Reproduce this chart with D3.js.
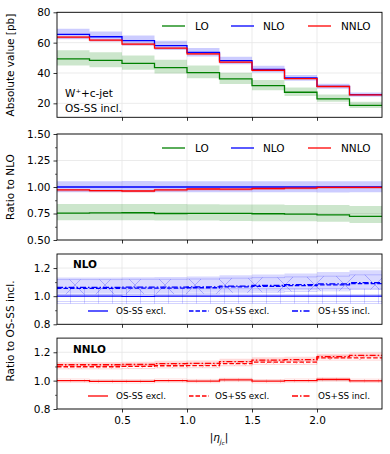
<!DOCTYPE html>
<html>
<head>
<meta charset="utf-8">
<script src="https://cdn.jsdelivr.net/npm/d3@7"></script>
<style>
  body { margin: 0; background: #fff; }
  svg { display: block; font-family: "DejaVu Sans", sans-serif; }
</style>
</head>
<body>
<svg id="svg" width="390" height="454"></svg>
<script>
// ----- data -----
const binEdges = [0, 0.25, 0.5, 0.75, 1.0, 1.25, 1.5, 1.75, 2.0, 2.25, 2.5];

// absolute cross sections [pb], OS-SS incl.
const loVals   = [49.3, 48.3, 46.4, 43.5, 40.3, 36.1, 31.7, 27.3, 23.0, 18.6];
const loLow    = [44.9, 43.8, 42.1, 39.7, 36.6, 32.7, 28.7, 24.8, 21.0, 17.0];
const loHigh   = [55.0, 53.7, 51.5, 48.7, 44.9, 40.2, 35.4, 30.5, 25.9, 21.1];
const nloVals  = [65.5, 63.9, 61.3, 58.0, 53.6, 48.1, 42.4, 36.7, 31.2, 25.7];
const nloLow   = [62.2, 60.7, 58.2, 55.1, 50.9, 45.7, 40.3, 34.9, 29.6, 24.4];
const nloHigh  = [69.1, 67.4, 64.7, 61.2, 56.5, 50.7, 44.7, 38.7, 32.9, 27.1];
const nnloVals = [63.7, 61.7, 59.0, 56.4, 52.6, 47.1, 41.8, 36.3, 31.1, 25.6];
const nnloLow  = [62.7, 60.8, 58.1, 55.6, 51.8, 46.4, 41.2, 35.8, 30.6, 25.2];
const nnloHigh = [64.3, 62.3, 59.6, 57.0, 53.1, 47.6, 42.2, 36.7, 31.4, 25.9];

// ratios to OS-SS incl., NLO
const nloOsssExcl     = [1.000, 1.000, 0.999, 1.000, 1.000, 1.000, 1.000, 1.000, 1.000, 1.000];
const nloOsssExclLow  = [0.948, 0.948, 0.947, 0.948, 0.948, 0.948, 0.948, 0.948, 0.948, 0.948];
const nloOsssExclHigh = [1.053, 1.053, 1.052, 1.053, 1.053, 1.053, 1.053, 1.053, 1.053, 1.053];
const nloOpssExcl     = [1.056, 1.056, 1.058, 1.058, 1.060, 1.066, 1.070, 1.075, 1.080, 1.090];
const nloOpssExclLow  = [1.014, 1.014, 1.016, 1.016, 1.018, 1.024, 1.028, 1.033, 1.038, 1.048];
const nloOpssExclHigh = [1.118, 1.118, 1.120, 1.120, 1.122, 1.128, 1.132, 1.137, 1.142, 1.152];
const nloOpssIncl     = [1.062, 1.062, 1.064, 1.064, 1.066, 1.072, 1.076, 1.082, 1.088, 1.097];
const nloOpssInclLow  = [1.020, 1.020, 1.022, 1.022, 1.024, 1.030, 1.034, 1.040, 1.046, 1.055];
const nloOpssInclHigh = [1.132, 1.132, 1.134, 1.136, 1.140, 1.148, 1.155, 1.162, 1.172, 1.185];

// ratios to OS-SS incl., NNLO
const nnloOsssExcl     = [1.000, 0.995, 0.995, 1.000, 0.997, 1.005, 0.996, 1.000, 1.008, 0.999];
const nnloOsssExclLow  = [0.988, 0.983, 0.983, 0.988, 0.985, 0.993, 0.984, 0.988, 0.996, 0.987];
const nnloOsssExclHigh = [1.012, 1.007, 1.007, 1.012, 1.009, 1.017, 1.008, 1.012, 1.020, 1.011];
const nnloOpssExcl     = [1.098, 1.098, 1.100, 1.105, 1.106, 1.120, 1.130, 1.130, 1.160, 1.160];
const nnloOpssExclLow  = [1.083, 1.083, 1.085, 1.090, 1.091, 1.105, 1.115, 1.115, 1.145, 1.145];
const nnloOpssExclHigh = [1.113, 1.113, 1.115, 1.120, 1.121, 1.135, 1.145, 1.145, 1.175, 1.175];
const nnloOpssIncl     = [1.112, 1.112, 1.114, 1.120, 1.122, 1.134, 1.145, 1.148, 1.170, 1.178];
const nnloOpssInclLow  = [1.097, 1.097, 1.099, 1.105, 1.107, 1.119, 1.130, 1.133, 1.155, 1.163];
const nnloOpssInclHigh = [1.132, 1.132, 1.134, 1.140, 1.142, 1.154, 1.165, 1.168, 1.190, 1.198];

const xTicks = [0.5, 1.0, 1.5, 2.0];
const absTicks = [20, 40, 60, 80];
const ratioTicks = [0.5, 0.75, 1.0, 1.25, 1.5];
const osTicks = [0.8, 1.0, 1.2];

const GREEN = "#008000", BLUE = "#0000ff", RED = "#ff0000";
const DASH = "4.5,2", DASHDOT = "6,2,1.5,2";
const FS = 10.5;

const svg = d3.select("#svg");
const x = d3.scaleLinear().domain([0, 2.5]).range([57, 382]);

// ----- hatch patterns -----
const defs = svg.append("defs");
function hatch(id, w, h, d, color) {
  defs.append("pattern")
    .attr("id", id).attr("patternUnits", "userSpaceOnUse")
    .attr("width", w).attr("height", h)
    .append("path").attr("d", d)
    .attr("stroke", color).attr("stroke-width", 0.8).attr("fill", "none");
}
hatch("xBlue", 30, 30, "M0,0L30,30M0,30L30,0", "rgba(0,0,255,0.3)");
hatch("plusBlue", 14, 7, "M0.5,0V7M0,0.5H14", "rgba(0,0,255,0.22)");
hatch("xRed", 30, 30, "M0,0L30,30M0,30L30,0", "rgba(255,0,0,0.25)");
hatch("plusRed", 14, 7, "M0.5,0V7M0,0.5H14", "rgba(255,0,0,0.2)");

// ----- helpers -----
function stepPts(vals) {
  const pts = vals.map((v, i) => [binEdges[i], v]);
  pts.push([binEdges[vals.length], vals[vals.length - 1]]);
  return pts;
}
function divide(a, b) { return a.map((v, i) => v / b[i]); }

function makePanel(top, bottom, domain, ticks, fmt, minor, showX, id) {
  const y = d3.scaleLinear().domain(domain).range([bottom, top]);
  const g = svg.append("g");

  defs.append("clipPath").attr("id", id)
    .append("rect").attr("x", x(0)).attr("y", top)
    .attr("width", x(2.5) - x(0)).attr("height", bottom - top);

  // grid
  g.selectAll(".vg").data(xTicks).enter().append("line")
    .attr("x1", d => x(d)).attr("x2", d => x(d))
    .attr("y1", top).attr("y2", bottom)
    .attr("stroke", "#e6e6e6").attr("stroke-width", 0.8);
  g.selectAll(".hg").data(ticks).enter().append("line")
    .attr("x1", x(0)).attr("x2", x(2.5))
    .attr("y1", d => y(d)).attr("y2", d => y(d))
    .attr("stroke", "#e6e6e6").attr("stroke-width", 0.8);

  const plot = g.append("g").attr("clip-path", `url(#${id})`);

  // axes
  const ya = g.append("g").attr("transform", `translate(${x(0)},0)`)
    .call(d3.axisLeft(y).tickValues(ticks).tickSize(3.5).tickPadding(3).tickFormat(fmt));
  if (minor) {
    g.append("g").attr("transform", `translate(${x(0)},0)`)
      .call(d3.axisLeft(y).tickValues(minor).tickSize(2).tickFormat(""))
      .call(a => a.selectAll("line").attr("stroke", "#000").attr("stroke-width", 0.6))
      .select(".domain").remove();
  }
  const xa = g.append("g").attr("transform", `translate(0,${bottom})`)
    .call(d3.axisBottom(x).tickValues(xTicks).tickSize(3.5).tickPadding(4)
      .tickFormat(showX ? d3.format(".1f") : ""));
  [ya, xa].forEach(a => {
    a.select(".domain").remove();
    a.selectAll("text").attr("font-size", FS).attr("fill", "#000")
      .attr("font-family", "DejaVu Sans, sans-serif");
    a.selectAll("line").attr("stroke", "#000").attr("stroke-width", 0.8);
  });

  return { g, plot, y, top, bottom };
}

function band(p, low, high, fill, stroke) {
  const area = d3.area().curve(d3.curveStepAfter)
    .x(d => x(d[0])).y0(d => p.y(d[1])).y1(d => p.y(d[2]));
  const pts = stepPts(low).map((d, i) => [d[0], d[1], i < high.length ? high[i] : high[high.length - 1]]);
  p.plot.append("path").datum(pts).attr("d", area)
    .attr("fill", fill).attr("stroke", stroke || "none").attr("stroke-width", 0.7);
}

function step(p, vals, color, dash) {
  const line = d3.line().curve(d3.curveStepAfter).x(d => x(d[0])).y(d => p.y(d[1]));
  p.plot.append("path").datum(stepPts(vals)).attr("d", line)
    .attr("fill", "none").attr("stroke", color).attr("stroke-width", 1.3)
    .attr("stroke-dasharray", dash || null);
}

function frame(p) {
  p.g.append("rect").attr("x", x(0)).attr("y", p.top)
    .attr("width", x(2.5) - x(0)).attr("height", p.bottom - p.top)
    .attr("fill", "none").attr("stroke", "#000").attr("stroke-width", 0.9);
}

function legend(p, items, yPos, size) {
  items.forEach(it => {
    p.g.append("line").attr("x1", it.x).attr("x2", it.x + it.len)
      .attr("y1", yPos).attr("y2", yPos)
      .attr("stroke", it.color).attr("stroke-width", 1.3)
      .attr("stroke-dasharray", it.dash || null);
    p.g.append("text").attr("x", it.tx).attr("y", yPos).attr("dy", "0.36em")
      .attr("font-size", size).text(it.label);
  });
}

// ----- panel 1: absolute values -----
const p1 = makePanel(12.3, 117.3, [10.8, 80], absTicks, d3.format("d"), null, false, "c1");
band(p1, loLow, loHigh, "rgba(0,128,0,0.2)");
band(p1, nloLow, nloHigh, "rgba(0,0,255,0.2)");
band(p1, nnloLow, nnloHigh, "rgba(255,0,0,0.2)");
step(p1, loVals, GREEN);
step(p1, nloVals, BLUE);
step(p1, nnloVals, RED);
const orderLegend = [
  { x: 162, len: 23, tx: 195, color: GREEN, label: "LO" },
  { x: 231, len: 23, tx: 263, color: BLUE, label: "NLO" },
  { x: 308, len: 23, tx: 341, color: RED, label: "NNLO" }
];
legend(p1, orderLegend, 26, FS);
p1.g.append("text").attr("x", 65).attr("y", 97).attr("font-size", FS).text("W⁺+c-jet");
p1.g.append("text").attr("x", 65).attr("y", 112).attr("font-size", FS).text("OS-SS incl.");
frame(p1);

// ----- panel 2: ratio to NLO -----
const p2 = makePanel(134, 240, [0.5, 1.5], ratioTicks, d3.format(".2f"),
  [0.625, 0.875, 1.125, 1.375], false, "c2");
band(p2, divide(loLow, nloVals), divide(loHigh, nloVals), "rgba(0,128,0,0.2)");
band(p2, divide(nloLow, nloVals), divide(nloHigh, nloVals), "rgba(0,0,255,0.2)");
band(p2, divide(nnloLow, nloVals), divide(nnloHigh, nloVals), "rgba(255,0,0,0.2)");
step(p2, divide(loVals, nloVals), GREEN);
step(p2, divide(nloVals, nloVals), BLUE);
step(p2, divide(nnloVals, nloVals), RED);
legend(p2, orderLegend, 148, FS);
frame(p2);

// ----- panel 3: NLO ratio to OS-SS incl. -----
const osLegend = [
  { x: 88, len: 20, tx: 116, label: "OS-SS excl." },
  { x: 189, len: 20, tx: 215, label: "OS+SS excl.", dash: DASH },
  { x: 292, len: 19, tx: 318, label: "OS+SS incl.", dash: DASHDOT }
];
const p3 = makePanel(254, 324.3, [0.8, 1.3], osTicks, d3.format(".1f"), [0.9, 1.1], false, "c3");
band(p3, nloOpssInclLow, nloOpssInclHigh, "rgba(0,0,255,0.15)");
band(p3, nloOpssExclLow, nloOpssExclHigh, "url(#xBlue)", "rgba(0,0,255,0.25)");
band(p3, nloOsssExclLow, nloOsssExclHigh, "url(#plusBlue)", "rgba(0,0,255,0.25)");
step(p3, nloOsssExcl, BLUE);
step(p3, nloOpssExcl, BLUE, DASH);
step(p3, nloOpssIncl, BLUE, DASHDOT);
legend(p3, osLegend.map(d => Object.assign({ color: BLUE }, d)), 311, 8.8);
p3.g.append("text").attr("x", 73).attr("y", 268).attr("font-size", FS)
  .attr("font-weight", "bold").text("NLO");
frame(p3);

// ----- panel 4: NNLO ratio to OS-SS incl. -----
const p4 = makePanel(338.1, 409, [0.8, 1.3], osTicks, d3.format(".1f"), [0.9, 1.1], true, "c4");
band(p4, nnloOpssInclLow, nnloOpssInclHigh, "rgba(255,0,0,0.15)");
band(p4, nnloOpssExclLow, nnloOpssExclHigh, "url(#xRed)", "rgba(255,0,0,0.25)");
band(p4, nnloOsssExclLow, nnloOsssExclHigh, "url(#plusRed)", "rgba(255,0,0,0.2)");
step(p4, nnloOsssExcl, RED);
step(p4, nnloOpssExcl, RED, DASH);
step(p4, nnloOpssIncl, RED, DASHDOT);
legend(p4, osLegend.map(d => Object.assign({ color: RED }, d)), 396, 8.8);
p4.g.append("text").attr("x", 73).attr("y", 353).attr("font-size", FS)
  .attr("font-weight", "bold").text("NNLO");
frame(p4);

// ----- axis titles -----
function yTitle(text, cy) {
  svg.append("text").attr("transform", `translate(14,${cy}) rotate(-90)`)
    .attr("text-anchor", "middle").attr("font-size", FS).text(text);
}
yTitle("Absolute value [pb]", 65);
yTitle("Ratio to NLO", 187);
yTitle("Ratio to OS-SS incl.", 331);

const xl = svg.append("text").attr("x", 219).attr("y", 441)
  .attr("text-anchor", "middle").attr("font-size", FS);
xl.append("tspan").text("|");
xl.append("tspan").attr("font-style", "italic").text("η");
xl.append("tspan").attr("font-style", "italic").attr("font-size", 7).attr("dy", 2.5).text("j");
xl.append("tspan").attr("font-style", "italic").attr("font-size", 5.5).attr("dy", 1.5).text("c");
xl.append("tspan").attr("dy", -4).text("|");
</script>
</body>
</html>
